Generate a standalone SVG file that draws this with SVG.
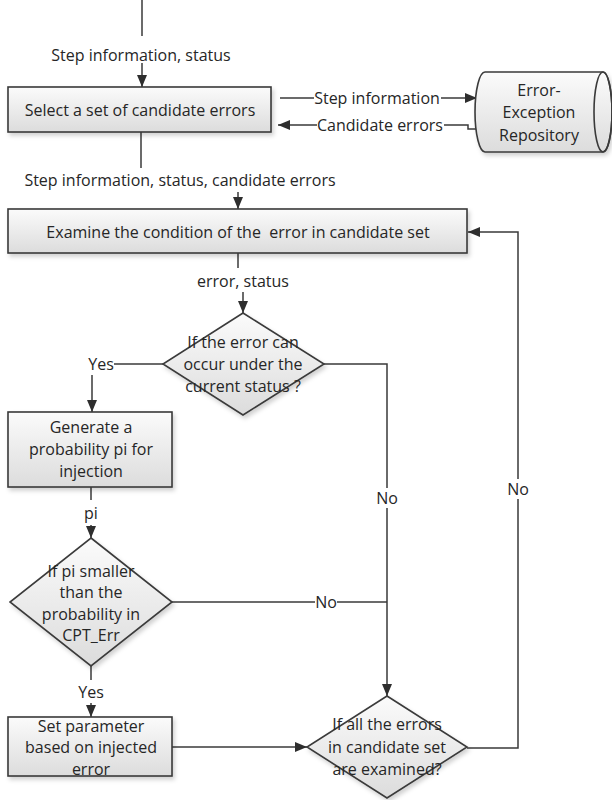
<svg xmlns="http://www.w3.org/2000/svg" width="612" height="800" viewBox="0 0 612 800">
<defs>
<linearGradient id="g" x1="0" y1="0" x2="0" y2="1">
<stop offset="0" stop-color="#fbfbfb"/>
<stop offset="1" stop-color="#dcdcdc"/>
</linearGradient>
<filter id="sh" x="-10%" y="-10%" width="130%" height="140%">
<feDropShadow dx="2" dy="3" stdDeviation="2" flood-color="#000" flood-opacity="0.18"/>
</filter>
<marker id="ah" viewBox="0 0 12 10" refX="12" refY="5" markerWidth="12" markerHeight="10" markerUnits="userSpaceOnUse" orient="auto">
<path d="M0,0 L12,5 L0,10 Z" fill="#2e2e2e"/>
</marker>
</defs>
<style>
.n{fill:url(#g);stroke:#3a3a3a;stroke-width:1.6;filter:url(#sh)}
.t{font-family:"Open Sans","Liberation Sans",sans-serif;font-size:16px;fill:#262626;text-anchor:middle;dominant-baseline:central;white-space:pre}
.c{fill:none;stroke:#3a3a3a;stroke-width:1.5}
.a{marker-end:url(#ah)}
.bg{fill:#fff}
</style>

<g id="connectors">
<path class="c" d="M142,0 V36"/>
<path class="c a" d="M142,63 V87"/>
<text class="t" x="141" y="55">Step information, status</text>

<path class="c a" d="M280,98 H477"/>
<rect class="bg" x="314" y="89" width="127" height="18"/>
<text class="t" x="377" y="98">Step information</text>

<path class="c a" d="M481,129 H468 V125 H278"/>
<rect class="bg" x="317" y="116" width="127" height="18"/>
<text class="t" x="380" y="125">Candidate errors</text>

<path class="c" d="M141,132 V168"/>
<text class="t" x="180" y="180">Step information, status, candidate errors</text>
<path class="c a" d="M238,192 V209"/>

<path class="c" d="M238,253 V268"/>
<text class="t" x="243" y="281">error, status</text>
<path class="c a" d="M243,292 V313"/>

<path class="c" d="M164,364 H114"/>
<text class="t" x="101" y="364">Yes</text>
<path class="c a" d="M92,375 V412"/>

<path class="c a" d="M324,364 H387 V696"/>
<rect class="bg" x="376" y="488" width="22" height="20"/>
<text class="t" x="387" y="498">No</text>

<path class="c" d="M91,487 V500"/>
<text class="t" x="91" y="513">pi</text>
<path class="c a" d="M91,525 V538"/>

<path class="c" d="M172,602 H387"/>
<rect class="bg" x="315" y="593" width="22" height="18"/>
<text class="t" x="326" y="602">No</text>

<path class="c" d="M91,666 V680"/>
<text class="t" x="91" y="692">Yes</text>
<path class="c a" d="M91,703 V717"/>

<path class="c a" d="M172,747 H307"/>

<path class="c a" d="M467,748 H518 V232 H468"/>
<rect class="bg" x="507" y="479" width="22" height="20"/>
<text class="t" x="518" y="489">No</text>
</g>

<g id="select">
<rect class="n" x="8" y="87" width="263" height="45"/>
<text class="t" x="140" y="110">Select a set of candidate errors</text>
</g>

<g id="repository">
<path class="n" d="M485,72 H603 A9,40 0 0 1 603,152 H485 A10,40 0 0 1 485,72 Z"/>
<ellipse cx="603" cy="112" rx="9" ry="40" fill="none" stroke="#3a3a3a" stroke-width="1.6"/>
<text class="t" x="539" y="90">Error-</text>
<text class="t" x="539" y="112">Exception</text>
<text class="t" x="539" y="135">Repository</text>
</g>

<g id="examine">
<rect class="n" x="8" y="209" width="459" height="44"/>
<text class="t" x="238" y="232" xml:space="preserve">Examine the condition of the  error in candidate set</text>
</g>

<g id="cond1">
<path class="n" d="M243,313 L324,364 L243,415 L163,364 Z"/>
<text class="t" x="243" y="342">If the error can</text>
<text class="t" x="243" y="364">occur under the</text>
<text class="t" x="243" y="386">current status ?</text>
</g>

<g id="generate">
<rect class="n" x="8" y="412" width="164" height="75"/>
<text class="t" x="91" y="427">Generate a</text>
<text class="t" x="91" y="449">probability pi for</text>
<text class="t" x="91" y="471">injection</text>
</g>

<g id="cond2">
<path class="n" d="M91,538 L172,602 L91,666 L10,602 Z"/>
<text class="t" x="91" y="571">If pi smaller</text>
<text class="t" x="91" y="592">than the</text>
<text class="t" x="91" y="614">probability in</text>
<text class="t" x="91" y="635">CPT_Err</text>
</g>

<g id="setparam">
<rect class="n" x="8" y="717" width="164" height="59"/>
<text class="t" x="91" y="726">Set parameter</text>
<text class="t" x="91" y="747">based on injected</text>
<text class="t" x="91" y="769">error</text>
</g>

<g id="cond3">
<path class="n" d="M387,696 L467,747 L387,798 L307,747 Z"/>
<text class="t" x="387" y="724">If all the errors</text>
<text class="t" x="387" y="747">in candidate set</text>
<text class="t" x="387" y="769">are examined?</text>
</g>
</svg>
